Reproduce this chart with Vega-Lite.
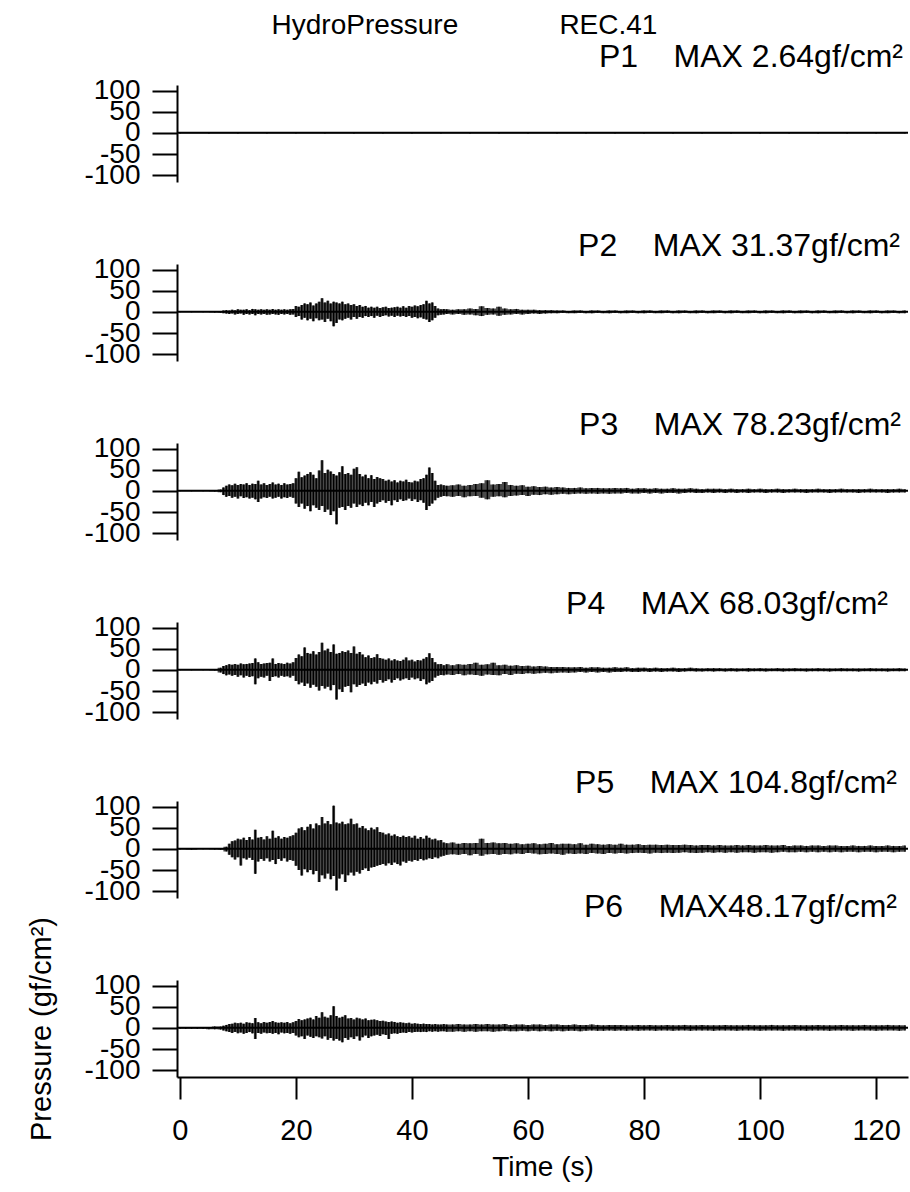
{
"$schema": "https://vega.github.io/schema/vega-lite/v6.json",
"padding": {"left": 27, "top": 11, "right": 0, "bottom": 5},
"background": "white",
"bounds": "flush",
"spacing": 82,
"title": {"text": "HydroPressure\u00a0\u00a0\u00a0\u00a0\u00a0\u00a0\u00a0\u00a0\u00a0\u00a0\u00a0\u00a0\u00a0REC.41", "fontSize": 28, "fontWeight": "normal", "font": "Liberation Sans", "color": "black", "anchor": "middle", "frame": "bounds", "offset": 1, "dx": -4},
"config": {
  "view": {"stroke": null},
  "font": "Liberation Sans",
  "axis": {"domainColor": "black", "tickColor": "black", "labelColor": "black", "titleColor": "black", "domainWidth": 2, "tickWidth": 2, "grid": false, "labelFlush": false, "labelOverlap": false, "titleFontWeight": "normal", "labelFont": "Liberation Sans", "titleFont": "Liberation Sans"}
},
"datasets": {
"P1": [{"t":0,"lo":-1.5,"hi":1.5},{"t":5,"lo":-1.5,"hi":1.5},{"t":10,"lo":-1.5,"hi":1.5},{"t":15,"lo":-1.5,"hi":1.5},{"t":20,"lo":-1.5,"hi":1.5},{"t":25,"lo":-1.5,"hi":1.5},{"t":30,"lo":-1.5,"hi":1.5},{"t":35,"lo":-1.5,"hi":1.5},{"t":40,"lo":-1.5,"hi":1.5},{"t":45,"lo":-1.5,"hi":1.5},{"t":50,"lo":-1.5,"hi":1.5},{"t":55,"lo":-1.5,"hi":1.5},{"t":60,"lo":-1.5,"hi":1.5},{"t":65,"lo":-1.5,"hi":1.5},{"t":70,"lo":-1.5,"hi":1.5},{"t":75,"lo":-1.5,"hi":1.5},{"t":80,"lo":-1.5,"hi":1.5},{"t":85,"lo":-1.5,"hi":1.5},{"t":90,"lo":-1.5,"hi":1.5},{"t":95,"lo":-1.5,"hi":1.5},{"t":100,"lo":-1.5,"hi":1.5},{"t":105,"lo":-1.5,"hi":1.5},{"t":110,"lo":-1.5,"hi":1.5},{"t":115,"lo":-1.5,"hi":1.5},{"t":120,"lo":-1.5,"hi":1.5},{"t":125,"lo":-1.5,"hi":1.5}],
"P2": [{"t":0,"lo":-1,"hi":1},{"t":2,"lo":-1,"hi":1},{"t":4,"lo":-1,"hi":1},{"t":6,"lo":-1.5,"hi":1.5},{"t":7,"lo":-2,"hi":2},
{"t":7.5,"lo":-3,"hi":3},{"t":8,"lo":-4,"hi":4},{"t":8.5,"lo":-5,"hi":3},{"t":9,"lo":-4,"hi":5},{"t":9.5,"lo":-6,"hi":4},{"t":10,"lo":-5,"hi":6},{"t":10.5,"lo":-4,"hi":5},{"t":11,"lo":-7,"hi":5},{"t":11.5,"lo":-5,"hi":6},{"t":12,"lo":-6,"hi":4},{"t":12.5,"lo":-5,"hi":7},{"t":13,"lo":-8,"hi":6},{"t":13.5,"lo":-5,"hi":5},{"t":14,"lo":-6,"hi":6},{"t":14.5,"lo":-5,"hi":5},{"t":15,"lo":-7,"hi":6},{"t":15.5,"lo":-6,"hi":5},{"t":16,"lo":-5,"hi":7},{"t":16.5,"lo":-6,"hi":5},{"t":17,"lo":-7,"hi":6},{"t":17.5,"lo":-5,"hi":5},{"t":18,"lo":-6,"hi":6},{"t":18.5,"lo":-5,"hi":5},{"t":19,"lo":-7,"hi":6},{"t":19.5,"lo":-6,"hi":7},
{"t":20,"lo":-12,"hi":14},{"t":20.5,"lo":-10,"hi":12},{"t":21,"lo":-18,"hi":16},{"t":21.5,"lo":-14,"hi":20},{"t":22,"lo":-20,"hi":18},{"t":22.5,"lo":-16,"hi":22},{"t":23,"lo":-22,"hi":15},{"t":23.5,"lo":-15,"hi":20},{"t":24,"lo":-20,"hi":24},{"t":24.5,"lo":-18,"hi":32},{"t":25,"lo":-24,"hi":22},{"t":25.5,"lo":-16,"hi":26},{"t":26,"lo":-22,"hi":20},{"t":26.5,"lo":-34,"hi":24},{"t":27,"lo":-26,"hi":22},{"t":27.5,"lo":-18,"hi":20},{"t":28,"lo":-20,"hi":24},{"t":28.5,"lo":-16,"hi":18},{"t":29,"lo":-14,"hi":20},{"t":29.5,"lo":-18,"hi":16},
{"t":30,"lo":-12,"hi":18},{"t":30.5,"lo":-16,"hi":14},{"t":31,"lo":-12,"hi":16},{"t":31.5,"lo":-14,"hi":12},{"t":32,"lo":-10,"hi":14},{"t":32.5,"lo":-12,"hi":10},{"t":33,"lo":-10,"hi":12},{"t":33.5,"lo":-14,"hi":10},{"t":34,"lo":-9,"hi":12},{"t":34.5,"lo":-12,"hi":9},{"t":35,"lo":-10,"hi":11},{"t":35.5,"lo":-8,"hi":12},{"t":36,"lo":-11,"hi":9},{"t":36.5,"lo":-9,"hi":10},{"t":37,"lo":-12,"hi":11},{"t":37.5,"lo":-9,"hi":12},{"t":38,"lo":-11,"hi":10},{"t":38.5,"lo":-10,"hi":13},{"t":39,"lo":-12,"hi":10},{"t":39.5,"lo":-10,"hi":14},
{"t":40,"lo":-14,"hi":12},{"t":40.5,"lo":-12,"hi":15},{"t":41,"lo":-15,"hi":13},{"t":41.5,"lo":-13,"hi":16},{"t":42,"lo":-16,"hi":18},{"t":42.5,"lo":-18,"hi":26},{"t":43,"lo":-24,"hi":20},{"t":43.5,"lo":-20,"hi":22},{"t":44,"lo":-14,"hi":14},{"t":44.5,"lo":-8,"hi":8},{"t":45,"lo":-7,"hi":6},{"t":45.5,"lo":-6,"hi":7},{"t":46,"lo":-5,"hi":6},
{"t":47,"lo":-6,"hi":5},{"t":48,"lo":-5,"hi":6},{"t":49,"lo":-7,"hi":6},{"t":50,"lo":-6,"hi":8},{"t":51,"lo":-8,"hi":7},{"t":52,"lo":-10,"hi":13},{"t":53,"lo":-7,"hi":9},{"t":54,"lo":-6,"hi":8},{"t":55,"lo":-9,"hi":12},{"t":56,"lo":-7,"hi":8},{"t":57,"lo":-6,"hi":6},{"t":58,"lo":-5,"hi":7},{"t":59,"lo":-6,"hi":5},{"t":60,"lo":-5,"hi":5},{"t":61,"lo":-4,"hi":5},{"t":62,"lo":-5,"hi":4},{"t":63,"lo":-4,"hi":4},{"t":64,"lo":-3,"hi":4},
{"t":65,"lo":-3,"hi":3},{"t":66,"lo":-2,"hi":3},{"t":67,"lo":-3,"hi":2},{"t":68,"lo":-3,"hi":3},{"t":69,"lo":-2,"hi":3},{"t":70,"lo":-3,"hi":2},{"t":71,"lo":-3,"hi":3},{"t":72,"lo":-2,"hi":3},{"t":73,"lo":-3,"hi":2},{"t":74,"lo":-3,"hi":3},{"t":75,"lo":-2,"hi":3},{"t":76,"lo":-3,"hi":2},{"t":77,"lo":-3,"hi":3},{"t":78,"lo":-2,"hi":3},{"t":79,"lo":-3,"hi":2},{"t":80,"lo":-3,"hi":3},{"t":81,"lo":-2,"hi":3},{"t":82,"lo":-3,"hi":2},{"t":83,"lo":-3,"hi":3},{"t":84,"lo":-2,"hi":3},{"t":85,"lo":-3,"hi":2},{"t":86,"lo":-3,"hi":3},{"t":87,"lo":-2,"hi":3},{"t":88,"lo":-3,"hi":2},{"t":89,"lo":-3,"hi":3},{"t":90,"lo":-2,"hi":3},{"t":91,"lo":-3,"hi":2},{"t":92,"lo":-3,"hi":3},{"t":93,"lo":-2,"hi":3},{"t":94,"lo":-3,"hi":2},{"t":95,"lo":-3,"hi":3},{"t":96,"lo":-2,"hi":3},{"t":97,"lo":-3,"hi":2},{"t":98,"lo":-3,"hi":3},{"t":99,"lo":-2,"hi":3},{"t":100,"lo":-3,"hi":2},{"t":101,"lo":-3,"hi":3},{"t":102,"lo":-2,"hi":3},{"t":103,"lo":-3,"hi":2},{"t":104,"lo":-3,"hi":3},{"t":105,"lo":-2,"hi":3},{"t":106,"lo":-3,"hi":2},{"t":107,"lo":-3,"hi":3},{"t":108,"lo":-2,"hi":3},{"t":109,"lo":-3,"hi":2},{"t":110,"lo":-3,"hi":3},{"t":111,"lo":-2,"hi":3},{"t":112,"lo":-3,"hi":2},{"t":113,"lo":-3,"hi":3},{"t":114,"lo":-2,"hi":3},{"t":115,"lo":-3,"hi":2},{"t":116,"lo":-3,"hi":3},{"t":117,"lo":-2,"hi":3},{"t":118,"lo":-3,"hi":2},{"t":119,"lo":-3,"hi":3},{"t":120,"lo":-2,"hi":3},{"t":121,"lo":-3,"hi":2},{"t":122,"lo":-3,"hi":3},{"t":123,"lo":-2,"hi":3},{"t":124,"lo":-3,"hi":2},{"t":125,"lo":-3,"hi":3}],
"P3": [{"t":0,"lo":-1,"hi":1},{"t":2,"lo":-1,"hi":1},{"t":4,"lo":-1,"hi":1},{"t":6,"lo":-1.5,"hi":1.5},
{"t":7,"lo":-3,"hi":3},{"t":7.5,"lo":-10,"hi":8},{"t":8,"lo":-14,"hi":12},{"t":8.5,"lo":-12,"hi":15},{"t":9,"lo":-16,"hi":13},{"t":9.5,"lo":-14,"hi":17},{"t":10,"lo":-18,"hi":14},{"t":10.5,"lo":-13,"hi":16},{"t":11,"lo":-17,"hi":15},{"t":11.5,"lo":-15,"hi":18},{"t":12,"lo":-18,"hi":14},{"t":12.5,"lo":-16,"hi":17},{"t":13,"lo":-20,"hi":16},{"t":13.5,"lo":-26,"hi":24},{"t":14,"lo":-18,"hi":15},{"t":14.5,"lo":-15,"hi":18},{"t":15,"lo":-17,"hi":14},{"t":15.5,"lo":-14,"hi":16},{"t":16,"lo":-18,"hi":20},{"t":16.5,"lo":-16,"hi":15},{"t":17,"lo":-14,"hi":17},{"t":17.5,"lo":-18,"hi":14},{"t":18,"lo":-15,"hi":18},{"t":18.5,"lo":-17,"hi":15},{"t":19,"lo":-14,"hi":16},{"t":19.5,"lo":-16,"hi":18},
{"t":20,"lo":-30,"hi":30},{"t":20.5,"lo":-38,"hi":45},{"t":21,"lo":-30,"hi":32},{"t":21.5,"lo":-42,"hi":36},{"t":22,"lo":-36,"hi":40},{"t":22.5,"lo":-48,"hi":44},{"t":23,"lo":-34,"hi":38},{"t":23.5,"lo":-40,"hi":30},{"t":24,"lo":-45,"hi":48},{"t":24.5,"lo":-36,"hi":72},{"t":25,"lo":-50,"hi":42},{"t":25.5,"lo":-44,"hi":50},{"t":26,"lo":-57,"hi":46},{"t":26.5,"lo":-48,"hi":40},{"t":27,"lo":-79,"hi":36},{"t":27.5,"lo":-40,"hi":44},{"t":28,"lo":-38,"hi":58},{"t":28.5,"lo":-45,"hi":40},{"t":29,"lo":-36,"hi":42},{"t":29.5,"lo":-40,"hi":38},
{"t":30,"lo":-30,"hi":52},{"t":30.5,"lo":-38,"hi":56},{"t":31,"lo":-32,"hi":40},{"t":31.5,"lo":-36,"hi":34},{"t":32,"lo":-28,"hi":38},{"t":32.5,"lo":-34,"hi":30},{"t":33,"lo":-26,"hi":37},{"t":33.5,"lo":-38,"hi":28},{"t":34,"lo":-30,"hi":33},{"t":34.5,"lo":-26,"hi":30},{"t":35,"lo":-22,"hi":28},{"t":35.5,"lo":-28,"hi":24},{"t":36,"lo":-24,"hi":26},{"t":36.5,"lo":-34,"hi":22},{"t":37,"lo":-22,"hi":25},{"t":37.5,"lo":-26,"hi":20},{"t":38,"lo":-20,"hi":24},{"t":38.5,"lo":-24,"hi":22},{"t":39,"lo":-22,"hi":26},{"t":39.5,"lo":-18,"hi":21},
{"t":40,"lo":-24,"hi":20},{"t":40.5,"lo":-20,"hi":24},{"t":41,"lo":-26,"hi":22},{"t":41.5,"lo":-22,"hi":28},{"t":42,"lo":-28,"hi":30},{"t":42.5,"lo":-45,"hi":38},{"t":43,"lo":-36,"hi":55},{"t":43.5,"lo":-30,"hi":42},{"t":44,"lo":-22,"hi":24},{"t":44.5,"lo":-16,"hi":14},{"t":45,"lo":-14,"hi":15},{"t":45.5,"lo":-12,"hi":13},{"t":46,"lo":-13,"hi":12},
{"t":47,"lo":-14,"hi":13},{"t":48,"lo":-12,"hi":15},{"t":49,"lo":-15,"hi":12},{"t":50,"lo":-13,"hi":14},{"t":51,"lo":-12,"hi":16},{"t":52,"lo":-16,"hi":18},{"t":53,"lo":-20,"hi":25},{"t":54,"lo":-14,"hi":15},{"t":55,"lo":-13,"hi":16},{"t":56,"lo":-15,"hi":21},{"t":57,"lo":-12,"hi":14},{"t":58,"lo":-11,"hi":12},{"t":59,"lo":-10,"hi":13},{"t":60,"lo":-12,"hi":10},{"t":61,"lo":-9,"hi":11},{"t":62,"lo":-10,"hi":9},{"t":63,"lo":-8,"hi":10},{"t":64,"lo":-9,"hi":8},{"t":65,"lo":-8,"hi":9},
{"t":66,"lo":-7,"hi":8},{"t":67,"lo":-8,"hi":7},{"t":68,"lo":-7,"hi":7},{"t":69,"lo":-6,"hi":8},{"t":70,"lo":-7,"hi":6},{"t":71,"lo":-6,"hi":7},{"t":72,"lo":-7,"hi":7},{"t":73,"lo":-6,"hi":6},{"t":74,"lo":-7,"hi":6},{"t":75,"lo":-6,"hi":7},{"t":76,"lo":-6,"hi":6},{"t":77,"lo":-5,"hi":7},{"t":78,"lo":-6,"hi":5},{"t":79,"lo":-6,"hi":6},{"t":80,"lo":-5,"hi":6},{"t":81,"lo":-6,"hi":5},{"t":82,"lo":-5,"hi":6},{"t":83,"lo":-6,"hi":5},{"t":84,"lo":-5,"hi":5},{"t":85,"lo":-5,"hi":6},{"t":86,"lo":-6,"hi":5},{"t":87,"lo":-5,"hi":5},{"t":88,"lo":-4,"hi":6},{"t":89,"lo":-5,"hi":5},{"t":90,"lo":-5,"hi":4},{"t":91,"lo":-4,"hi":5},{"t":92,"lo":-5,"hi":5},{"t":93,"lo":-4,"hi":5},{"t":94,"lo":-5,"hi":4},{"t":95,"lo":-4,"hi":5},{"t":96,"lo":-5,"hi":4},{"t":97,"lo":-4,"hi":4},{"t":98,"lo":-5,"hi":5},{"t":99,"lo":-4,"hi":4},{"t":100,"lo":-4,"hi":5},{"t":101,"lo":-5,"hi":4},{"t":102,"lo":-4,"hi":4},{"t":103,"lo":-4,"hi":5},{"t":104,"lo":-5,"hi":4},{"t":105,"lo":-4,"hi":4},{"t":106,"lo":-4,"hi":5},{"t":107,"lo":-4,"hi":4},{"t":108,"lo":-5,"hi":4},{"t":109,"lo":-4,"hi":4},{"t":110,"lo":-4,"hi":5},{"t":111,"lo":-4,"hi":4},{"t":112,"lo":-5,"hi":4},{"t":113,"lo":-4,"hi":4},{"t":114,"lo":-4,"hi":5},{"t":115,"lo":-4,"hi":4},{"t":116,"lo":-4,"hi":4},{"t":117,"lo":-5,"hi":4},{"t":118,"lo":-4,"hi":4},{"t":119,"lo":-4,"hi":5},{"t":120,"lo":-4,"hi":4},{"t":121,"lo":-4,"hi":4},{"t":122,"lo":-5,"hi":4},{"t":123,"lo":-4,"hi":4},{"t":124,"lo":-4,"hi":5},{"t":125,"lo":-4,"hi":4}],
"P4": [{"t":0,"lo":-1,"hi":1},{"t":2,"lo":-1,"hi":1},{"t":4,"lo":-1,"hi":1},{"t":6,"lo":-1.5,"hi":1.5},
{"t":7,"lo":-6,"hi":5},{"t":7.5,"lo":-10,"hi":9},{"t":8,"lo":-13,"hi":11},{"t":8.5,"lo":-11,"hi":13},{"t":9,"lo":-14,"hi":12},{"t":9.5,"lo":-12,"hi":14},{"t":10,"lo":-16,"hi":12},{"t":10.5,"lo":-13,"hi":15},{"t":11,"lo":-18,"hi":13},{"t":11.5,"lo":-14,"hi":14},{"t":12,"lo":-17,"hi":15},{"t":12.5,"lo":-15,"hi":16},{"t":13,"lo":-34,"hi":27},{"t":13.5,"lo":-20,"hi":18},{"t":14,"lo":-16,"hi":14},{"t":14.5,"lo":-18,"hi":15},{"t":15,"lo":-14,"hi":16},{"t":15.5,"lo":-26,"hi":17},{"t":16,"lo":-17,"hi":27},{"t":16.5,"lo":-15,"hi":14},{"t":17,"lo":-18,"hi":16},{"t":17.5,"lo":-14,"hi":15},{"t":18,"lo":-16,"hi":14},{"t":18.5,"lo":-15,"hi":17},{"t":19,"lo":-18,"hi":15},{"t":19.5,"lo":-14,"hi":18},
{"t":20,"lo":-26,"hi":28},{"t":20.5,"lo":-34,"hi":36},{"t":21,"lo":-30,"hi":32},{"t":21.5,"lo":-38,"hi":53},{"t":22,"lo":-32,"hi":40},{"t":22.5,"lo":-42,"hi":38},{"t":23,"lo":-35,"hi":44},{"t":23.5,"lo":-40,"hi":36},{"t":24,"lo":-49,"hi":42},{"t":24.5,"lo":-38,"hi":64},{"t":25,"lo":-44,"hi":46},{"t":25.5,"lo":-40,"hi":50},{"t":26,"lo":-48,"hi":42},{"t":26.5,"lo":-36,"hi":60},{"t":27,"lo":-70,"hi":38},{"t":27.5,"lo":-46,"hi":40},{"t":28,"lo":-52,"hi":44},{"t":28.5,"lo":-40,"hi":42},{"t":29,"lo":-38,"hi":46},{"t":29.5,"lo":-53,"hi":40},
{"t":30,"lo":-34,"hi":55},{"t":30.5,"lo":-40,"hi":38},{"t":31,"lo":-36,"hi":42},{"t":31.5,"lo":-32,"hi":36},{"t":32,"lo":-38,"hi":30},{"t":32.5,"lo":-30,"hi":34},{"t":33,"lo":-34,"hi":28},{"t":33.5,"lo":-28,"hi":30},{"t":34,"lo":-32,"hi":37},{"t":34.5,"lo":-24,"hi":28},{"t":35,"lo":-30,"hi":26},{"t":35.5,"lo":-26,"hi":24},{"t":36,"lo":-22,"hi":27},{"t":36.5,"lo":-30,"hi":22},{"t":37,"lo":-24,"hi":25},{"t":37.5,"lo":-20,"hi":22},{"t":38,"lo":-25,"hi":21},{"t":38.5,"lo":-22,"hi":24},{"t":39,"lo":-20,"hi":29},{"t":39.5,"lo":-24,"hi":22},
{"t":40,"lo":-18,"hi":24},{"t":40.5,"lo":-22,"hi":20},{"t":41,"lo":-20,"hi":23},{"t":41.5,"lo":-26,"hi":22},{"t":42,"lo":-22,"hi":26},{"t":42.5,"lo":-34,"hi":30},{"t":43,"lo":-30,"hi":39},{"t":43.5,"lo":-26,"hi":28},{"t":44,"lo":-18,"hi":18},{"t":44.5,"lo":-14,"hi":13},{"t":45,"lo":-12,"hi":14},{"t":45.5,"lo":-13,"hi":11},{"t":46,"lo":-11,"hi":13},
{"t":47,"lo":-12,"hi":11},{"t":48,"lo":-10,"hi":13},{"t":49,"lo":-13,"hi":12},{"t":50,"lo":-11,"hi":14},{"t":51,"lo":-12,"hi":17},{"t":52,"lo":-14,"hi":12},{"t":53,"lo":-11,"hi":13},{"t":54,"lo":-12,"hi":17},{"t":55,"lo":-13,"hi":11},{"t":56,"lo":-10,"hi":12},{"t":57,"lo":-12,"hi":10},{"t":58,"lo":-9,"hi":11},{"t":59,"lo":-10,"hi":9},{"t":60,"lo":-8,"hi":10},
{"t":61,"lo":-9,"hi":8},{"t":62,"lo":-8,"hi":9},{"t":63,"lo":-7,"hi":8},{"t":64,"lo":-8,"hi":7},{"t":65,"lo":-7,"hi":7},{"t":66,"lo":-6,"hi":7},{"t":67,"lo":-7,"hi":6},{"t":68,"lo":-6,"hi":6},{"t":69,"lo":-5,"hi":7},{"t":70,"lo":-6,"hi":5},{"t":71,"lo":-5,"hi":6},{"t":72,"lo":-6,"hi":6},{"t":73,"lo":-5,"hi":5},{"t":74,"lo":-6,"hi":5},{"t":75,"lo":-5,"hi":6},{"t":76,"lo":-5,"hi":5},{"t":77,"lo":-4,"hi":6},{"t":78,"lo":-5,"hi":4},{"t":79,"lo":-5,"hi":5},{"t":80,"lo":-4,"hi":5},{"t":81,"lo":-5,"hi":4},{"t":82,"lo":-4,"hi":5},{"t":83,"lo":-5,"hi":4},{"t":84,"lo":-4,"hi":4},{"t":85,"lo":-4,"hi":5},{"t":86,"lo":-5,"hi":4},{"t":87,"lo":-4,"hi":4},{"t":88,"lo":-3,"hi":5},{"t":89,"lo":-4,"hi":4},{"t":90,"lo":-4,"hi":3},{"t":91,"lo":-3,"hi":4},{"t":92,"lo":-4,"hi":4},{"t":93,"lo":-3,"hi":4},{"t":94,"lo":-4,"hi":3},{"t":95,"lo":-3,"hi":4},{"t":96,"lo":-4,"hi":3},{"t":97,"lo":-3,"hi":3},{"t":98,"lo":-4,"hi":4},{"t":99,"lo":-3,"hi":3},{"t":100,"lo":-3,"hi":4},{"t":101,"lo":-4,"hi":3},{"t":102,"lo":-3,"hi":3},{"t":103,"lo":-3,"hi":4},{"t":104,"lo":-4,"hi":3},{"t":105,"lo":-3,"hi":3},{"t":106,"lo":-3,"hi":4},{"t":107,"lo":-3,"hi":3},{"t":108,"lo":-4,"hi":3},{"t":109,"lo":-3,"hi":3},{"t":110,"lo":-3,"hi":4},{"t":111,"lo":-3,"hi":3},{"t":112,"lo":-4,"hi":3},{"t":113,"lo":-3,"hi":3},{"t":114,"lo":-3,"hi":4},{"t":115,"lo":-3,"hi":3},{"t":116,"lo":-3,"hi":3},{"t":117,"lo":-4,"hi":3},{"t":118,"lo":-3,"hi":3},{"t":119,"lo":-3,"hi":4},{"t":120,"lo":-3,"hi":3},{"t":121,"lo":-3,"hi":3},{"t":122,"lo":-4,"hi":3},{"t":123,"lo":-3,"hi":3},{"t":124,"lo":-3,"hi":4},{"t":125,"lo":-3,"hi":3}],
"P5": [{"t":0,"lo":-1.5,"hi":1},{"t":2,"lo":-2,"hi":1},{"t":4,"lo":-1,"hi":1},{"t":6,"lo":-1.5,"hi":1.5},{"t":7,"lo":-2,"hi":2},
{"t":8,"lo":-6,"hi":5},{"t":8.5,"lo":-14,"hi":12},{"t":9,"lo":-20,"hi":18},{"t":9.5,"lo":-25,"hi":20},{"t":10,"lo":-20,"hi":24},{"t":10.5,"lo":-39,"hi":22},{"t":11,"lo":-22,"hi":26},{"t":11.5,"lo":-25,"hi":21},{"t":12,"lo":-21,"hi":28},{"t":12.5,"lo":-26,"hi":22},{"t":13,"lo":-59,"hi":45},{"t":13.5,"lo":-30,"hi":26},{"t":14,"lo":-24,"hi":28},{"t":14.5,"lo":-28,"hi":22},{"t":15,"lo":-22,"hi":30},{"t":15.5,"lo":-30,"hi":24},{"t":16,"lo":-26,"hi":43},{"t":16.5,"lo":-36,"hi":26},{"t":17,"lo":-24,"hi":30},{"t":17.5,"lo":-28,"hi":24},{"t":18,"lo":-22,"hi":28},{"t":18.5,"lo":-30,"hi":26},{"t":19,"lo":-26,"hi":30},{"t":19.5,"lo":-28,"hi":32},
{"t":20,"lo":-40,"hi":38},{"t":20.5,"lo":-50,"hi":48},{"t":21,"lo":-63,"hi":51},{"t":21.5,"lo":-48,"hi":44},{"t":22,"lo":-55,"hi":52},{"t":22.5,"lo":-50,"hi":58},{"t":23,"lo":-60,"hi":48},{"t":23.5,"lo":-52,"hi":60},{"t":24,"lo":-78,"hi":56},{"t":24.5,"lo":-62,"hi":75},{"t":25,"lo":-70,"hi":60},{"t":25.5,"lo":-58,"hi":66},{"t":26,"lo":-72,"hi":58},{"t":26.5,"lo":-64,"hi":102},{"t":27,"lo":-98,"hi":62},{"t":27.5,"lo":-70,"hi":60},{"t":28,"lo":-60,"hi":64},{"t":28.5,"lo":-78,"hi":58},{"t":29,"lo":-62,"hi":60},{"t":29.5,"lo":-56,"hi":71},
{"t":30,"lo":-63,"hi":58},{"t":30.5,"lo":-54,"hi":60},{"t":31,"lo":-58,"hi":50},{"t":31.5,"lo":-50,"hi":54},{"t":32,"lo":-46,"hi":48},{"t":32.5,"lo":-52,"hi":44},{"t":33,"lo":-44,"hi":50},{"t":33.5,"lo":-43,"hi":46},{"t":34,"lo":-40,"hi":51},{"t":34.5,"lo":-38,"hi":40},{"t":35,"lo":-36,"hi":38},{"t":35.5,"lo":-39,"hi":34},{"t":36,"lo":-34,"hi":36},{"t":36.5,"lo":-38,"hi":31},{"t":37,"lo":-32,"hi":34},{"t":37.5,"lo":-36,"hi":30},{"t":38,"lo":-39,"hi":28},{"t":38.5,"lo":-30,"hi":31},{"t":39,"lo":-33,"hi":28},{"t":39.5,"lo":-28,"hi":30},
{"t":40,"lo":-30,"hi":26},{"t":40.5,"lo":-26,"hi":31},{"t":41,"lo":-28,"hi":24},{"t":41.5,"lo":-24,"hi":28},{"t":42,"lo":-27,"hi":24},{"t":42.5,"lo":-25,"hi":31},{"t":43,"lo":-22,"hi":26},{"t":43.5,"lo":-24,"hi":22},{"t":44,"lo":-20,"hi":24},{"t":44.5,"lo":-22,"hi":20},{"t":45,"lo":-18,"hi":21},{"t":45.5,"lo":-16,"hi":15},{"t":46,"lo":-14,"hi":13},
{"t":47,"lo":-13,"hi":15},{"t":48,"lo":-14,"hi":12},{"t":49,"lo":-12,"hi":14},{"t":50,"lo":-15,"hi":13},{"t":51,"lo":-12,"hi":14},{"t":52,"lo":-16,"hi":24},{"t":53,"lo":-13,"hi":14},{"t":54,"lo":-12,"hi":15},{"t":55,"lo":-14,"hi":13},{"t":56,"lo":-12,"hi":14},{"t":57,"lo":-13,"hi":12},{"t":58,"lo":-11,"hi":13},{"t":59,"lo":-12,"hi":11},{"t":60,"lo":-10,"hi":12},
{"t":61,"lo":-11,"hi":13},{"t":62,"lo":-13,"hi":11},{"t":63,"lo":-12,"hi":12},{"t":64,"lo":-11,"hi":14},{"t":65,"lo":-12,"hi":11},{"t":66,"lo":-14,"hi":12},{"t":67,"lo":-11,"hi":12},{"t":68,"lo":-12,"hi":11},{"t":69,"lo":-11,"hi":13},{"t":70,"lo":-12,"hi":10},{"t":71,"lo":-10,"hi":12},{"t":72,"lo":-11,"hi":11},{"t":73,"lo":-12,"hi":10},{"t":74,"lo":-10,"hi":11},{"t":75,"lo":-11,"hi":10},{"t":76,"lo":-10,"hi":12},{"t":77,"lo":-11,"hi":10},{"t":78,"lo":-10,"hi":10},{"t":79,"lo":-9,"hi":11},{"t":80,"lo":-10,"hi":9},{"t":81,"lo":-11,"hi":10},{"t":82,"lo":-9,"hi":10},{"t":83,"lo":-10,"hi":9},{"t":84,"lo":-9,"hi":10},{"t":85,"lo":-10,"hi":9},{"t":86,"lo":-9,"hi":9},{"t":87,"lo":-8,"hi":10},{"t":88,"lo":-9,"hi":9},{"t":89,"lo":-10,"hi":8},{"t":90,"lo":-9,"hi":9},{"t":91,"lo":-8,"hi":9},{"t":92,"lo":-9,"hi":8},{"t":93,"lo":-8,"hi":9},{"t":94,"lo":-9,"hi":8},{"t":95,"lo":-8,"hi":8},{"t":96,"lo":-9,"hi":9},{"t":97,"lo":-8,"hi":8},{"t":98,"lo":-8,"hi":9},{"t":99,"lo":-9,"hi":8},{"t":100,"lo":-8,"hi":8},{"t":101,"lo":-8,"hi":9},{"t":102,"lo":-9,"hi":8},{"t":103,"lo":-8,"hi":8},{"t":104,"lo":-7,"hi":9},{"t":105,"lo":-8,"hi":7},{"t":106,"lo":-8,"hi":8},{"t":107,"lo":-7,"hi":8},{"t":108,"lo":-8,"hi":7},{"t":109,"lo":-7,"hi":8},{"t":110,"lo":-8,"hi":8},{"t":111,"lo":-7,"hi":7},{"t":112,"lo":-8,"hi":8},{"t":113,"lo":-7,"hi":8},{"t":114,"lo":-8,"hi":7},{"t":115,"lo":-7,"hi":7},{"t":116,"lo":-7,"hi":8},{"t":117,"lo":-8,"hi":7},{"t":118,"lo":-7,"hi":7},{"t":119,"lo":-7,"hi":8},{"t":120,"lo":-8,"hi":7},{"t":121,"lo":-7,"hi":7},{"t":122,"lo":-7,"hi":8},{"t":123,"lo":-8,"hi":7},{"t":124,"lo":-7,"hi":7},{"t":125,"lo":-7,"hi":8}],
"P6": [{"t":0,"lo":-2,"hi":2},{"t":1,"lo":-2,"hi":2},{"t":2,"lo":-2,"hi":2},{"t":3,"lo":-2,"hi":2},{"t":4,"lo":-2,"hi":2},{"t":5,"lo":-3,"hi":2},{"t":6,"lo":-3,"hi":3},
{"t":7,"lo":-4,"hi":3},{"t":7.5,"lo":-6,"hi":5},{"t":8,"lo":-8,"hi":7},{"t":8.5,"lo":-10,"hi":9},{"t":9,"lo":-12,"hi":10},{"t":9.5,"lo":-10,"hi":12},{"t":10,"lo":-13,"hi":11},{"t":10.5,"lo":-11,"hi":12},{"t":11,"lo":-14,"hi":10},{"t":11.5,"lo":-12,"hi":13},{"t":12,"lo":-10,"hi":12},{"t":12.5,"lo":-13,"hi":11},{"t":13,"lo":-26,"hi":23},{"t":13.5,"lo":-12,"hi":13},{"t":14,"lo":-14,"hi":11},{"t":14.5,"lo":-11,"hi":14},{"t":15,"lo":-13,"hi":12},{"t":15.5,"lo":-12,"hi":14},{"t":16,"lo":-14,"hi":16},{"t":16.5,"lo":-12,"hi":13},{"t":17,"lo":-15,"hi":12},{"t":17.5,"lo":-11,"hi":13},{"t":18,"lo":-13,"hi":12},{"t":18.5,"lo":-12,"hi":14},{"t":19,"lo":-14,"hi":11},{"t":19.5,"lo":-12,"hi":13},
{"t":20,"lo":-18,"hi":16},{"t":20.5,"lo":-22,"hi":21},{"t":21,"lo":-20,"hi":18},{"t":21.5,"lo":-26,"hi":20},{"t":22,"lo":-18,"hi":22},{"t":22.5,"lo":-21,"hi":24},{"t":23,"lo":-24,"hi":20},{"t":23.5,"lo":-20,"hi":28},{"t":24,"lo":-22,"hi":24},{"t":24.5,"lo":-25,"hi":37},{"t":25,"lo":-20,"hi":26},{"t":25.5,"lo":-28,"hi":24},{"t":26,"lo":-24,"hi":30},{"t":26.5,"lo":-30,"hi":51},{"t":27,"lo":-26,"hi":28},{"t":27.5,"lo":-30,"hi":24},{"t":28,"lo":-34,"hi":26},{"t":28.5,"lo":-24,"hi":30},{"t":29,"lo":-28,"hi":22},{"t":29.5,"lo":-22,"hi":23},
{"t":30,"lo":-26,"hi":20},{"t":30.5,"lo":-20,"hi":24},{"t":31,"lo":-30,"hi":22},{"t":31.5,"lo":-22,"hi":20},{"t":32,"lo":-18,"hi":22},{"t":32.5,"lo":-24,"hi":18},{"t":33,"lo":-20,"hi":19},{"t":33.5,"lo":-18,"hi":20},{"t":34,"lo":-16,"hi":18},{"t":34.5,"lo":-19,"hi":16},{"t":35,"lo":-15,"hi":17},{"t":35.5,"lo":-17,"hi":15},{"t":36,"lo":-26,"hi":14},{"t":36.5,"lo":-14,"hi":15},{"t":37,"lo":-13,"hi":14},{"t":37.5,"lo":-14,"hi":12},{"t":38,"lo":-12,"hi":13},{"t":38.5,"lo":-11,"hi":12},{"t":39,"lo":-12,"hi":11},{"t":39.5,"lo":-10,"hi":12},
{"t":40,"lo":-11,"hi":10},{"t":40.5,"lo":-10,"hi":11},{"t":41,"lo":-9,"hi":10},{"t":41.5,"lo":-10,"hi":9},{"t":42,"lo":-9,"hi":10},{"t":42.5,"lo":-10,"hi":9},{"t":43,"lo":-8,"hi":9},{"t":43.5,"lo":-9,"hi":8},{"t":44,"lo":-8,"hi":9},{"t":44.5,"lo":-9,"hi":8},{"t":45,"lo":-8,"hi":8},{"t":45.5,"lo":-8,"hi":9},{"t":46,"lo":-9,"hi":8},
{"t":47,"lo":-9,"hi":8},{"t":48,"lo":-8,"hi":9},{"t":49,"lo":-9,"hi":8},{"t":50,"lo":-8,"hi":8},{"t":51,"lo":-9,"hi":9},{"t":52,"lo":-8,"hi":8},{"t":53,"lo":-8,"hi":9},{"t":54,"lo":-9,"hi":8},{"t":55,"lo":-8,"hi":8},{"t":56,"lo":-7,"hi":9},{"t":57,"lo":-8,"hi":7},{"t":58,"lo":-8,"hi":8},{"t":59,"lo":-7,"hi":8},{"t":60,"lo":-8,"hi":7},{"t":61,"lo":-7,"hi":8},{"t":62,"lo":-8,"hi":8},{"t":63,"lo":-7,"hi":7},{"t":64,"lo":-8,"hi":8},{"t":65,"lo":-7,"hi":8},{"t":66,"lo":-8,"hi":7},{"t":67,"lo":-7,"hi":7},{"t":68,"lo":-7,"hi":8},{"t":69,"lo":-8,"hi":7},{"t":70,"lo":-7,"hi":7},{"t":71,"lo":-6,"hi":8},{"t":72,"lo":-7,"hi":7},{"t":73,"lo":-7,"hi":6},{"t":74,"lo":-6,"hi":7},{"t":75,"lo":-7,"hi":7},{"t":76,"lo":-6,"hi":7},{"t":77,"lo":-7,"hi":6},{"t":78,"lo":-6,"hi":6},{"t":79,"lo":-7,"hi":7},{"t":80,"lo":-6,"hi":6},{"t":81,"lo":-6,"hi":7},{"t":82,"lo":-7,"hi":6},{"t":83,"lo":-6,"hi":6},{"t":84,"lo":-6,"hi":7},{"t":85,"lo":-7,"hi":6},{"t":86,"lo":-6,"hi":6},{"t":87,"lo":-6,"hi":7},{"t":88,"lo":-7,"hi":6},{"t":89,"lo":-6,"hi":6},{"t":90,"lo":-6,"hi":7},{"t":91,"lo":-6,"hi":6},{"t":92,"lo":-7,"hi":6},{"t":93,"lo":-6,"hi":6},{"t":94,"lo":-6,"hi":7},{"t":95,"lo":-6,"hi":6},{"t":96,"lo":-7,"hi":6},{"t":97,"lo":-6,"hi":6},{"t":98,"lo":-6,"hi":7},{"t":99,"lo":-6,"hi":6},{"t":100,"lo":-7,"hi":6},{"t":101,"lo":-6,"hi":6},{"t":102,"lo":-6,"hi":7},{"t":103,"lo":-6,"hi":6},{"t":104,"lo":-7,"hi":6},{"t":105,"lo":-6,"hi":6},{"t":106,"lo":-6,"hi":7},{"t":107,"lo":-6,"hi":6},{"t":108,"lo":-7,"hi":6},{"t":109,"lo":-6,"hi":6},{"t":110,"lo":-6,"hi":7},{"t":111,"lo":-6,"hi":6},{"t":112,"lo":-7,"hi":6},{"t":113,"lo":-6,"hi":6},{"t":114,"lo":-6,"hi":7},{"t":115,"lo":-6,"hi":6},{"t":116,"lo":-7,"hi":6},{"t":117,"lo":-6,"hi":6},{"t":118,"lo":-6,"hi":7},{"t":119,"lo":-6,"hi":6},{"t":120,"lo":-7,"hi":6},{"t":121,"lo":-6,"hi":6},{"t":122,"lo":-6,"hi":7},{"t":123,"lo":-6,"hi":6},{"t":124,"lo":-7,"hi":6},{"t":125,"lo":-6,"hi":6}]
},
"vconcat": [
{"width": 731, "height": 97, "data": {"name": "P1"},
 "title": {"text": "P1\u00a0\u00a0\u00a0\u00a0MAX 2.64gf/cm²", "anchor": "end", "frame": "group", "fontSize": 32, "fontWeight": "normal", "font": "Liberation Sans", "color": "black", "dx": -5, "offset": -22, "baseline": "alphabetic"},
 "layer": [
  {"mark": {"type": "area", "color": "#4a4a4a", "interpolate": "step", "clip": true}, "encoding": {"x": {"field": "t", "type": "quantitative", "scale": {"domain": [-0.5, 125.5], "nice": false, "zero": false}, "axis": null}, "y": {"field": "lo", "type": "quantitative", "scale": {"domain": [-116, 113], "nice": false}, "axis": {"values": [-100, -50, 0, 50, 100], "labelExpr": "datum.value < 0 ? '-' + abs(datum.value) : '' + datum.value", "labelOverlap": false, "tickSize": 25, "labelPadding": 12, "labelFontSize": 28, "title": null}}, "y2": {"field": "hi"}}},
  {"data": {"values": [{}]}, "mark": {"type": "rule", "color": "black", "strokeWidth": 2}, "encoding": {"y": {"datum": 0, "type": "quantitative", "scale": {"domain": [-116, 113], "nice": false}, "axis": {"values": [-100, -50, 0, 50, 100], "labelExpr": "datum.value < 0 ? '-' + abs(datum.value) : '' + datum.value", "labelOverlap": false, "tickSize": 25, "labelPadding": 12, "labelFontSize": 28, "title": null}}}},
  {"mark": {"type": "rule", "color": "black", "strokeWidth": 1.4, "clip": true}, "encoding": {"x": {"field": "t", "type": "quantitative", "scale": {"domain": [-0.5, 125.5], "nice": false, "zero": false}, "axis": null}, "y": {"field": "lo", "type": "quantitative", "scale": {"domain": [-116, 113], "nice": false}, "axis": {"values": [-100, -50, 0, 50, 100], "labelExpr": "datum.value < 0 ? '-' + abs(datum.value) : '' + datum.value", "labelOverlap": false, "tickSize": 25, "labelPadding": 12, "labelFontSize": 28, "title": null}}, "y2": {"field": "hi"}}}
 ]},
{"width": 731, "height": 97, "data": {"name": "P2"},
 "title": {"text": "P2\u00a0\u00a0\u00a0\u00a0MAX 31.37gf/cm²", "anchor": "end", "frame": "group", "fontSize": 32, "fontWeight": "normal", "font": "Liberation Sans", "color": "black", "dx": -8, "offset": -32, "baseline": "alphabetic"},
 "layer": [
  {"mark": {"type": "area", "color": "#4a4a4a", "interpolate": "step", "clip": true}, "encoding": {"x": {"field": "t", "type": "quantitative", "scale": {"domain": [-0.5, 125.5], "nice": false, "zero": false}, "axis": null}, "y": {"field": "lo", "type": "quantitative", "scale": {"domain": [-116, 113], "nice": false}, "axis": {"values": [-100, -50, 0, 50, 100], "labelExpr": "datum.value < 0 ? '-' + abs(datum.value) : '' + datum.value", "labelOverlap": false, "tickSize": 25, "labelPadding": 12, "labelFontSize": 28, "title": null}}, "y2": {"field": "hi"}}},
  {"data": {"values": [{}]}, "mark": {"type": "rule", "color": "black", "strokeWidth": 2}, "encoding": {"y": {"datum": 0, "type": "quantitative", "scale": {"domain": [-116, 113], "nice": false}, "axis": {"values": [-100, -50, 0, 50, 100], "labelExpr": "datum.value < 0 ? '-' + abs(datum.value) : '' + datum.value", "labelOverlap": false, "tickSize": 25, "labelPadding": 12, "labelFontSize": 28, "title": null}}}},
  {"mark": {"type": "rule", "color": "black", "strokeWidth": 1.4, "clip": true}, "encoding": {"x": {"field": "t", "type": "quantitative", "scale": {"domain": [-0.5, 125.5], "nice": false, "zero": false}, "axis": null}, "y": {"field": "lo", "type": "quantitative", "scale": {"domain": [-116, 113], "nice": false}, "axis": {"values": [-100, -50, 0, 50, 100], "labelExpr": "datum.value < 0 ? '-' + abs(datum.value) : '' + datum.value", "labelOverlap": false, "tickSize": 25, "labelPadding": 12, "labelFontSize": 28, "title": null}}, "y2": {"field": "hi"}}}
 ]},
{"width": 731, "height": 97, "data": {"name": "P3"},
 "title": {"text": "P3\u00a0\u00a0\u00a0\u00a0MAX 78.23gf/cm²", "anchor": "end", "frame": "group", "fontSize": 32, "fontWeight": "normal", "font": "Liberation Sans", "color": "black", "dx": -7, "offset": -32, "baseline": "alphabetic"},
 "layer": [
  {"mark": {"type": "area", "color": "#4a4a4a", "interpolate": "step", "clip": true}, "encoding": {"x": {"field": "t", "type": "quantitative", "scale": {"domain": [-0.5, 125.5], "nice": false, "zero": false}, "axis": null}, "y": {"field": "lo", "type": "quantitative", "scale": {"domain": [-116, 113], "nice": false}, "axis": {"values": [-100, -50, 0, 50, 100], "labelExpr": "datum.value < 0 ? '-' + abs(datum.value) : '' + datum.value", "labelOverlap": false, "tickSize": 25, "labelPadding": 12, "labelFontSize": 28, "title": null}}, "y2": {"field": "hi"}}},
  {"data": {"values": [{}]}, "mark": {"type": "rule", "color": "black", "strokeWidth": 2}, "encoding": {"y": {"datum": 0, "type": "quantitative", "scale": {"domain": [-116, 113], "nice": false}, "axis": {"values": [-100, -50, 0, 50, 100], "labelExpr": "datum.value < 0 ? '-' + abs(datum.value) : '' + datum.value", "labelOverlap": false, "tickSize": 25, "labelPadding": 12, "labelFontSize": 28, "title": null}}}},
  {"mark": {"type": "rule", "color": "black", "strokeWidth": 1.4, "clip": true}, "encoding": {"x": {"field": "t", "type": "quantitative", "scale": {"domain": [-0.5, 125.5], "nice": false, "zero": false}, "axis": null}, "y": {"field": "lo", "type": "quantitative", "scale": {"domain": [-116, 113], "nice": false}, "axis": {"values": [-100, -50, 0, 50, 100], "labelExpr": "datum.value < 0 ? '-' + abs(datum.value) : '' + datum.value", "labelOverlap": false, "tickSize": 25, "labelPadding": 12, "labelFontSize": 28, "title": null}}, "y2": {"field": "hi"}}}
 ]},
{"width": 731, "height": 97, "data": {"name": "P4"},
 "title": {"text": "P4\u00a0\u00a0\u00a0\u00a0MAX 68.03gf/cm²", "anchor": "end", "frame": "group", "fontSize": 32, "fontWeight": "normal", "font": "Liberation Sans", "color": "black", "dx": -20, "offset": -32, "baseline": "alphabetic"},
 "layer": [
  {"mark": {"type": "area", "color": "#4a4a4a", "interpolate": "step", "clip": true}, "encoding": {"x": {"field": "t", "type": "quantitative", "scale": {"domain": [-0.5, 125.5], "nice": false, "zero": false}, "axis": null}, "y": {"field": "lo", "type": "quantitative", "scale": {"domain": [-116, 113], "nice": false}, "axis": {"values": [-100, -50, 0, 50, 100], "labelExpr": "datum.value < 0 ? '-' + abs(datum.value) : '' + datum.value", "labelOverlap": false, "tickSize": 25, "labelPadding": 12, "labelFontSize": 28, "title": null}}, "y2": {"field": "hi"}}},
  {"data": {"values": [{}]}, "mark": {"type": "rule", "color": "black", "strokeWidth": 2}, "encoding": {"y": {"datum": 0, "type": "quantitative", "scale": {"domain": [-116, 113], "nice": false}, "axis": {"values": [-100, -50, 0, 50, 100], "labelExpr": "datum.value < 0 ? '-' + abs(datum.value) : '' + datum.value", "labelOverlap": false, "tickSize": 25, "labelPadding": 12, "labelFontSize": 28, "title": null}}}},
  {"mark": {"type": "rule", "color": "black", "strokeWidth": 1.4, "clip": true}, "encoding": {"x": {"field": "t", "type": "quantitative", "scale": {"domain": [-0.5, 125.5], "nice": false, "zero": false}, "axis": null}, "y": {"field": "lo", "type": "quantitative", "scale": {"domain": [-116, 113], "nice": false}, "axis": {"values": [-100, -50, 0, 50, 100], "labelExpr": "datum.value < 0 ? '-' + abs(datum.value) : '' + datum.value", "labelOverlap": false, "tickSize": 25, "labelPadding": 12, "labelFontSize": 28, "title": null}}, "y2": {"field": "hi"}}}
 ]},
{"width": 731, "height": 97, "data": {"name": "P5"},
 "title": {"text": "P5\u00a0\u00a0\u00a0\u00a0MAX 104.8gf/cm²", "anchor": "end", "frame": "group", "fontSize": 32, "fontWeight": "normal", "font": "Liberation Sans", "color": "black", "dx": -11, "offset": -32, "baseline": "alphabetic"},
 "layer": [
  {"mark": {"type": "area", "color": "#4a4a4a", "interpolate": "step", "clip": true}, "encoding": {"x": {"field": "t", "type": "quantitative", "scale": {"domain": [-0.5, 125.5], "nice": false, "zero": false}, "axis": null}, "y": {"field": "lo", "type": "quantitative", "scale": {"domain": [-116, 113], "nice": false}, "axis": {"values": [-100, -50, 0, 50, 100], "labelExpr": "datum.value < 0 ? '-' + abs(datum.value) : '' + datum.value", "labelOverlap": false, "tickSize": 25, "labelPadding": 12, "labelFontSize": 28, "title": null}}, "y2": {"field": "hi"}}},
  {"data": {"values": [{}]}, "mark": {"type": "rule", "color": "black", "strokeWidth": 2}, "encoding": {"y": {"datum": 0, "type": "quantitative", "scale": {"domain": [-116, 113], "nice": false}, "axis": {"values": [-100, -50, 0, 50, 100], "labelExpr": "datum.value < 0 ? '-' + abs(datum.value) : '' + datum.value", "labelOverlap": false, "tickSize": 25, "labelPadding": 12, "labelFontSize": 28, "title": null}}}},
  {"mark": {"type": "rule", "color": "black", "strokeWidth": 1.4, "clip": true}, "encoding": {"x": {"field": "t", "type": "quantitative", "scale": {"domain": [-0.5, 125.5], "nice": false, "zero": false}, "axis": null}, "y": {"field": "lo", "type": "quantitative", "scale": {"domain": [-116, 113], "nice": false}, "axis": {"values": [-100, -50, 0, 50, 100], "labelExpr": "datum.value < 0 ? '-' + abs(datum.value) : '' + datum.value", "labelOverlap": false, "tickSize": 25, "labelPadding": 12, "labelFontSize": 28, "title": null}}, "y2": {"field": "hi"}}}
 ]},
{"width": 731, "height": 97, "data": {"name": "P6"},
 "title": {"text": "P6\u00a0\u00a0\u00a0\u00a0MAX48.17gf/cm²", "anchor": "end", "frame": "group", "fontSize": 32, "fontWeight": "normal", "font": "Liberation Sans", "color": "black", "dx": -11, "offset": -32, "baseline": "alphabetic"},
 "layer": [
  {"mark": {"type": "area", "color": "#4a4a4a", "interpolate": "step", "clip": true}, "encoding": {"x": {"field": "t", "type": "quantitative", "scale": {"domain": [-0.5, 125.5], "nice": false, "zero": false}, "axis": {"values": [0, 20, 40, 60, 80, 100, 120], "tickSize": 22, "labelPadding": 17, "labelFontSize": 29, "title": "Time (s)", "titleFontSize": 28, "titlePadding": 8}}, "y": {"field": "lo", "type": "quantitative", "scale": {"domain": [-116, 113], "nice": false}, "axis": {"values": [-100, -50, 0, 50, 100], "labelExpr": "datum.value < 0 ? '-' + abs(datum.value) : '' + datum.value", "labelOverlap": false, "tickSize": 25, "labelPadding": 12, "labelFontSize": 28, "title": "Pressure (gf/cm²)", "titleFontSize": 29, "titlePadding": 27}}, "y2": {"field": "hi"}}},
  {"data": {"values": [{}]}, "mark": {"type": "rule", "color": "black", "strokeWidth": 2}, "encoding": {"y": {"datum": 0, "type": "quantitative", "scale": {"domain": [-116, 113], "nice": false}, "axis": {"values": [-100, -50, 0, 50, 100], "labelExpr": "datum.value < 0 ? '-' + abs(datum.value) : '' + datum.value", "labelOverlap": false, "tickSize": 25, "labelPadding": 12, "labelFontSize": 28, "title": "Pressure (gf/cm²)", "titleFontSize": 29, "titlePadding": 27}}}},
  {"mark": {"type": "rule", "color": "black", "strokeWidth": 1.4, "clip": true}, "encoding": {"x": {"field": "t", "type": "quantitative", "scale": {"domain": [-0.5, 125.5], "nice": false, "zero": false}, "axis": {"values": [0, 20, 40, 60, 80, 100, 120], "tickSize": 22, "labelPadding": 17, "labelFontSize": 29, "title": "Time (s)", "titleFontSize": 28, "titlePadding": 8}}, "y": {"field": "lo", "type": "quantitative", "scale": {"domain": [-116, 113], "nice": false}, "axis": {"values": [-100, -50, 0, 50, 100], "labelExpr": "datum.value < 0 ? '-' + abs(datum.value) : '' + datum.value", "labelOverlap": false, "tickSize": 25, "labelPadding": 12, "labelFontSize": 28, "title": "Pressure (gf/cm²)", "titleFontSize": 29, "titlePadding": 27}}, "y2": {"field": "hi"}}}
 ]}
]
}
